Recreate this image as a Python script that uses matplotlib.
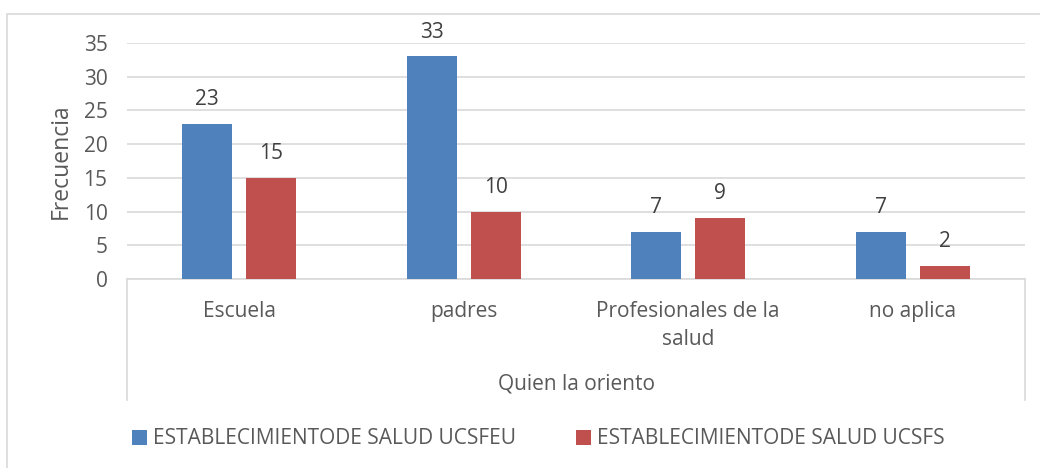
import matplotlib
matplotlib.use("Agg")
import matplotlib.pyplot as plt
from matplotlib.patches import Rectangle, Patch
from matplotlib.lines import Line2D
import numpy as np

plt.rcParams["font.family"] = ["Open Sans", "DejaVu Sans"]

categories = ["Escuela", "padres", "Profesionales de la\nsalud", "no aplica"]
series_names = ["ESTABLECIMIENTODE SALUD UCSFEU", "ESTABLECIMIENTODE SALUD UCSFS"]
ucsfeu = [23, 33, 7, 7]
ucsfs = [15, 10, 9, 2]
colors = ["#4F81BD", "#C0504D"]
text_color = "#595959"
grid_color = "#D9D9D9"
fs = 15

fig = plt.figure(figsize=(10.4, 4.68), dpi=100)
ax = fig.add_axes([127 / 1040, 1 - 279 / 468, 898 / 1040, 236 / 468])

x = np.arange(len(categories))
w = 0.223
off = 0.143
b1 = ax.bar(x - off, ucsfeu, w, color=colors[0], zorder=3)
b2 = ax.bar(x + off, ucsfs, w, color=colors[1], zorder=3)
for bars in (b1, b2):
    ax.bar_label(bars, padding=10, fontsize=fs, color="#404040")

ax.set_xlim(-0.5, len(categories) - 0.5)
ax.set_ylim(0, 35)
ax.set_yticks(range(0, 36, 5))
ax.yaxis.grid(True, color=grid_color, linewidth=1.2, zorder=0)
ax.set_axisbelow(True)
for s in ["top", "right", "left"]:
    ax.spines[s].set_visible(False)
ax.spines["bottom"].set_color(grid_color)
ax.spines["bottom"].set_linewidth(1.2)
ax.tick_params(axis="y", length=0, labelsize=fs, labelcolor=text_color, pad=14)
ax.tick_params(axis="x", length=0, labelsize=fs, labelcolor=text_color, pad=16)
ax.set_xticks(x)
ax.set_xticklabels(categories, linespacing=1.4)
ax.set_ylabel("Frecuencia", fontsize=fs * 1.1, color=text_color, labelpad=8)

# category axis box (sides only)
for xf in (127 / 1040, 1025 / 1040):
    fig.add_artist(Line2D([xf, xf], [1 - 279 / 468, 1 - 400 / 468],
                          color=grid_color, linewidth=1.2))
fig.text(577 / 1040, 1 - 384 / 468, "Quien la oriento", ha="center", va="center",
         fontsize=fs, color=text_color)

# outer chart border (partially visible)
fig.add_artist(Rectangle((7 / 1040, -0.1), 1.2, 1.1 - 14 / 468, transform=fig.transFigure,
                         fill=False, edgecolor=grid_color, linewidth=1.2))

handles = [Patch(facecolor=c, edgecolor="none") for c in colors]
fig.legend(handles, series_names, loc="center left",
           bbox_to_anchor=(132 / 1040, 1 - 439 / 468), ncol=2, frameon=False,
           fontsize=fs, labelcolor=text_color, handlelength=0.7, handleheight=0.7,
           handletextpad=0.3, columnspacing=2.9, borderaxespad=0, borderpad=0)

fig.savefig("out.png", dpi=100)
